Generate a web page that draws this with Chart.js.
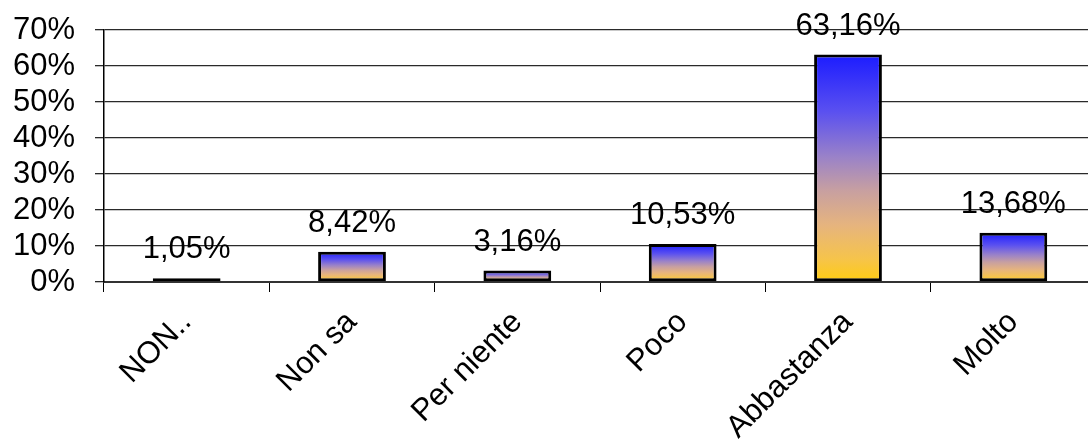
<!DOCTYPE html>
<html>
<head>
<meta charset="utf-8">
<script src="https://cdn.jsdelivr.net/npm/chart.js@4/dist/chart.umd.min.js"></script>
<style>
  html, body { margin: 0; padding: 0; background: #fff; overflow: hidden; }
  #wrap { width: 1088px; height: 448px; overflow: hidden; }
</style>
</head>
<body>
<div id="wrap"><canvas id="grafico" width="1100" height="448"></canvas></div>
<script>
const categorie = ['NON..', 'Non sa', 'Per niente', 'Poco', 'Abbastanza', 'Molto']
const percentuali = [1.05, 8.42, 3.16, 10.53, 63.16, 13.68]
const tickPercentuali = [0, 10, 20, 30, 40, 50, 60, 70]

const font = { family: '"Liberation Sans", Arial, sans-serif', size: 31 }

function formatta(v) {
    return v.toFixed(2).replace('.', ',') + '%'
}

// gradiente blu -> giallo per ogni barra
function riempimento(ctx) {
    const chart = ctx.chart
    if (!chart.chartArea || ctx.type !== 'data') return '#8a7ad0'
    const y = chart.scales.y
    const top = y.getPixelForValue(ctx.raw)
    const bottom = y.getPixelForValue(0)
    if (bottom - top < 6) return '#6a4ec8'
    const g = chart.ctx.createLinearGradient(0, top, 0, bottom)
    g.addColorStop(0, '#1c1cff')
    g.addColorStop(0.25, '#5a50f0')
    g.addColorStop(0.45, '#9a82c8')
    g.addColorStop(0.6, '#c8a0a0')
    g.addColorStop(0.75, '#e6b47e')
    g.addColorStop(0.9, '#f6c44a')
    g.addColorStop(1, '#ffcc10')
    return g
}

const etichette = {
    id: 'etichette',
    afterDatasetsDraw(chart) {
        const c = chart.ctx
        const meta = chart.getDatasetMeta(0)
        c.save()
        c.font = font.size + 'px ' + font.family
        c.fillStyle = '#000'
        c.textAlign = 'center'
        c.textBaseline = 'alphabetic'
        meta.data.forEach((bar, i) => {
            c.fillText(formatta(percentuali[i]), bar.x, bar.y - 20)
        })
        c.restore()
    }
}

new Chart(document.getElementById('grafico'), {
    type: 'bar',
    data: {
        labels: categorie,
        datasets: [{
            data: percentuali,
            backgroundColor: riempimento,
            borderColor: '#000',
            borderWidth: 3,
            borderSkipped: false,
            barPercentage: 0.41,
            categoryPercentage: 1
        }]
    },
    options: {
        responsive: false,
        animation: false,
        events: [],
        layout: { padding: { top: 30, right: 4, bottom: 0, left: 0 } },
        plugins: { legend: { display: false }, tooltip: { enabled: false } },
        scales: {
            x: {
                afterFit: s => { s.height = 166 },
                border: { color: '#333', width: 2 },
                grid: { offset: true, drawOnChartArea: false, color: '#000', tickLength: 10 },
                ticks: {
                    color: '#000',
                    font: font,
                    minRotation: 45,
                    maxRotation: 45,
                    autoSkip: false,
                    padding: 12
                }
            },
            y: {
                min: 0,
                max: 70,
                afterFit: s => { s.width = 104; s.paddingTop = 0; s.paddingBottom = 0 },
                afterBuildTicks: s => { s.ticks = tickPercentuali.map(v => ({ value: v })) },
                border: { color: '#000', width: 1.5 },
                grid: { color: '#2a2a2a', lineWidth: 1.3, tickLength: 9 },
                ticks: {
                    color: '#000',
                    font: font,
                    padding: 20,
                    autoSkip: false,
                    callback: v => v + '%'
                }
            }
        }
    },
    plugins: [etichette]
})
</script>
</body>
</html>
